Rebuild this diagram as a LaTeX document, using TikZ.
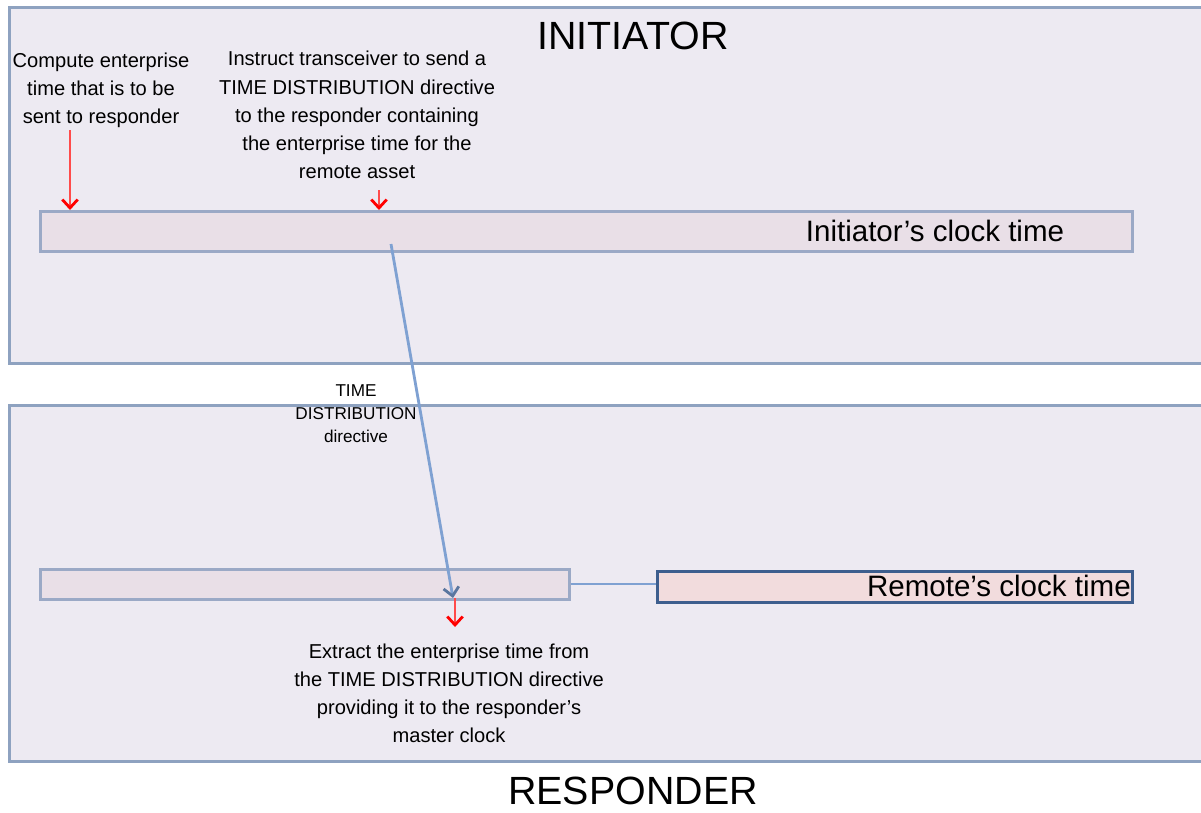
\documentclass[tikz,border=0pt]{standalone}
\usepackage{fontspec}
\setmainfont{Liberation Sans}
\usetikzlibrary{arrows.meta, positioning, calc}

\definecolor{panelfill}{HTML}{EDEAF2}
\definecolor{paneldraw}{HTML}{8EA2C0}
\definecolor{barfill}{HTML}{E9DFE7}
\definecolor{bardraw}{HTML}{9BA9C6}
\definecolor{remotefill}{HTML}{F2DCDD}
\definecolor{remotedraw}{HTML}{3D5E8E}
\definecolor{linkblue}{HTML}{7FA1D2}
\definecolor{arrowred}{HTML}{FF4B4B}

\begin{document}
\begin{tikzpicture}[
    x=0.025cm, y=-0.025cm,
    panel/.style={rectangle, draw=paneldraw, fill=panelfill, line width=1.8pt, anchor=north west, inner sep=0pt},
    clockbar/.style={rectangle, draw=bardraw, fill=barfill, line width=1.8pt, anchor=north west, inner sep=0pt},
    note/.style={align=center, inner sep=0pt, font=\fontsize{14.3}{20}\selectfont},
    bigtitle/.style={inner sep=0pt, font=\fontsize{28}{32}\selectfont},
    redarrow/.style={draw=arrowred, line width=2pt, -{Straight Barb[length=6pt, width=11pt, line width=2pt, color=red]}},
    msgarrow/.style={draw=linkblue, line width=2pt, -{Straight Barb[length=6pt, width=11pt, line width=2pt, color=remotedraw!85]}}
]
\useasboundingbox (0,0) rectangle (1201,812);
\clip (0,0) rectangle (1201,812);

% panels
\node[panel, minimum width=30cm, minimum height=8.9cm] (initpanel) at (8,6) {};
\node[panel, minimum width=30cm, minimum height=8.9cm] (resppanel) at (8,404) {};

% clock bars
\node[clockbar, minimum width=27.3cm, minimum height=1cm] (initbar) at (39,210) {};
\node[clockbar, minimum width=13.225cm, minimum height=0.75cm] (respbar) at (39,568) {};
\node[clockbar, draw=remotedraw, fill=remotefill, minimum width=11.875cm, minimum height=0.775cm] (remotebar) at (656,570) {};
\draw[linkblue, line width=1.6pt] (respbar.east) -- (remotebar.west |- respbar.east);

% titles
\node[bigtitle] (inittitle) at (633,36) {INITIATOR};
\node[bigtitle] (resptitle) at (633,791) {RESPONDER};
\node[inner sep=0pt, font=\fontsize{21}{24}\selectfont] (initclock) at (935,231) {Initiator’s clock time};
\node[inner sep=0pt, anchor=east, font=\fontsize{21}{24}\selectfont] (remoteclock) at (1131,586) {Remote’s clock time};

% notes
\node[note] (compute) at (101,90) {Compute enterprise\\time that is to be\\sent to responder};
\node[note] (instruct) at (357,115) {Instruct transceiver to send a\\TIME DISTRIBUTION directive\\to the responder containing\\the enterprise time for the\\remote asset};
\node[note, font=\fontsize{12.2}{16.3}\selectfont] (directive) at (356,414) {TIME\\DISTRIBUTION\\directive};
\node[note] (extract) at (449,693) {Extract the enterprise time from\\the TIME DISTRIBUTION directive\\providing it to the responder’s\\master clock};

% arrows
\coordinate (computeend) at (70,130);
\coordinate (instructend) at (379,190);
\coordinate (sendpt) at (391,244);
\coordinate (recvpt) at (453,598);
\draw[redarrow] (computeend) -- (computeend |- initbar.north);
\draw[redarrow] (instructend) -- (instructend |- initbar.north);
\draw[msgarrow] (sendpt) -- (recvpt);
\draw[redarrow] (recvpt -| 455,0) -- (455,627);
\end{tikzpicture}
\end{document}
